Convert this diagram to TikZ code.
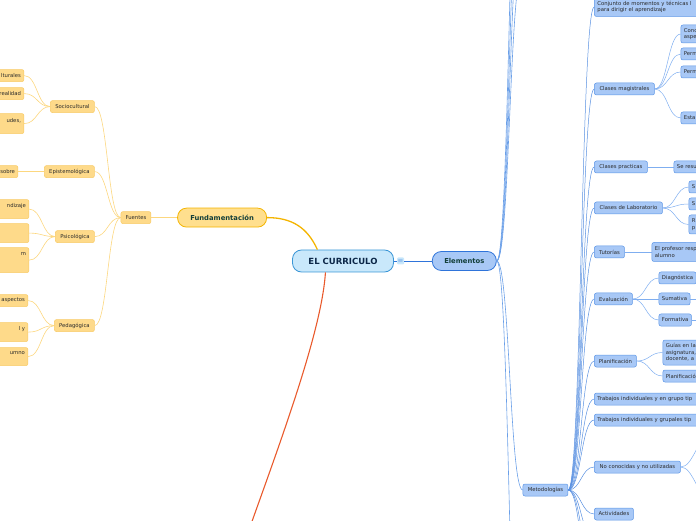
\documentclass[tikz,border=0pt]{standalone}
\usepackage{fontspec}
\setmainfont{DejaVu Sans}
\usetikzlibrary{positioning}

\definecolor{rootfill}{HTML}{C9E8FB}
\definecolor{rootline}{HTML}{3A96D6}
\definecolor{bluefill}{HTML}{A8C8F6}
\definecolor{blueline}{HTML}{5B95E6}
\definecolor{bluedark}{HTML}{2F74DA}
\definecolor{elink}{HTML}{6A9FE8}
\definecolor{glink}{HTML}{7FAEF0}
\definecolor{yelfill}{HTML}{FFDF8E}
\definecolor{yelline}{HTML}{F4B400}
\definecolor{ysubfill}{HTML}{FEDA8A}
\definecolor{ysubline}{HTML}{F8CB66}
\definecolor{ylink}{HTML}{FCD77F}
\definecolor{redlink}{HTML}{E95A2C}
\definecolor{darkgreen}{HTML}{133F3A}
\definecolor{navy}{HTML}{0C2748}
\definecolor{txt}{HTML}{2A2A2A}

\begin{document}
\begin{tikzpicture}[x=1pt, y=1pt,
  root/.style={draw=rootline, fill=rootfill, line width=0.8pt, rounded corners=9pt, font=\fontsize{8.5}{10}\selectfont\bfseries, text=navy, minimum width=101pt, minimum height=22pt},
  bmain/.style={draw=bluedark, fill=bluefill, line width=0.8pt, rounded corners=9pt, font=\fontsize{6.8}{8}\selectfont\bfseries, text=darkgreen, minimum width=64pt, minimum height=19pt},
  ymain/.style={bmain, draw=yelline, fill=yelfill, minimum width=89pt},
  menu/.style={fill=rootfill, text=bluedark, rounded corners=1pt, inner sep=0pt, minimum size=7pt, font=\fontsize{6}{6}\selectfont},
  bsub/.style={draw=blueline, fill=bluefill, line width=0.5pt, rounded corners=2pt, font=\fontsize{5.3}{6.4}\selectfont, text=txt, inner xsep=3pt, inner ysep=1pt, minimum height=12pt, align=left},
  ysub/.style={bsub, draw=ysubline, fill=ysubfill},
  bcut/.style={bsub, text width=#1}, bcut/.default=60pt, % runs past the right edge
  ycut/.style={ysub, text width=54pt, align=right},      % runs past the left edge
  elinkst/.style={draw=elink, line width=0.6pt},
  mlinkst/.style={draw=bluedark!80, line width=0.5pt},
  glinkst/.style={draw=glink, line width=0.5pt},
  ylinkst/.style={draw=ylink, line width=0.6pt},
]
  \useasboundingbox (0,0) rectangle (696,520);
  \clip (0,0) rectangle (696,520);

  \node[root] (cur) at (343,259) {EL CURRICULO};
  \node[bmain, right=38pt of cur] (elem) {Elementos};
  \node[ymain, left=76pt of cur.north, yshift=32pt] (fund) {Fundamentación};
  \coordinate (nextbr) at (215,-110);

  % Fuentes branch
  \node[ysub, left=26pt of fund, minimum width=30pt] (fuentes) {Fuentes};
  \node[ysub, left=26pt of fuentes, yshift=111pt, minimum width=44pt] (socio) {Sociocultural};
  \node[ysub, left=26pt of fuentes, yshift=46pt, minimum width=50pt] (episte) {Epistemológica};
  \node[ysub, left=26pt of fuentes, yshift=-19pt, minimum width=39pt] (psico) {Psicológica};
  \node[ysub, left=26pt of fuentes, yshift=-108pt, minimum width=40pt] (pedago) {Pedagógica};

  \node[ycut, left=26pt of socio, yshift=31pt] (soc1) {lturales};
  \node[ycut, left=26pt of socio, yshift=13pt] (soc2) {realidad};
  \node[ycut, left=26pt of socio, yshift=-17pt, minimum height=20pt] (soc3) {udes,\hspace*{8pt}\\\mbox{}};
  \node[ycut, left=26pt of episte] (epi1) {sobre};
  \node[ycut, left=26pt of psico, yshift=27.5pt, minimum height=19pt] (psi1) {ndizaje\hspace*{9pt}\\\mbox{}};
  \node[ycut, left=26pt of psico, yshift=3.5pt, minimum height=19pt] (psi2) {};
  \node[ycut, left=26pt of psico, yshift=-23.5pt, minimum height=25pt] (psi3) {m\hspace*{23pt}\\\mbox{}\\\mbox{}};
  \node[ycut, left=26pt of pedago, yshift=25pt] (ped1) {aspectos};
  \node[ycut, left=26pt of pedago, yshift=-6.5pt, minimum height=19pt] (ped2) {l y\hspace*{18pt}\\\mbox{}};
  \node[ycut, left=26pt of pedago, yshift=-31pt, minimum height=18pt] (ped3) {umno\hspace*{12pt}\\\mbox{}};

  % Elementos branch
  \node[bsub, right=26pt of elem, yshift=-229pt, minimum width=45pt] (metod) {Metodologías};
  \coordinate[right=26pt of elem, yshift=291pt] (eup1);
  \coordinate[right=26pt of elem, yshift=351pt] (eup2);
  \coordinate[right=26pt of elem, yshift=421pt] (eup3);
  \coordinate[right=26pt of elem, yshift=511pt] (eup4);
  \coordinate[right=26pt of elem, yshift=-519pt] (edown);

  % Metodologias
  \node[bcut=112pt, right=26pt of metod, yshift=483pt, minimum height=19pt] (conj) {Conjunto de momentos y técnicas l\\para dirigir el aprendizaje};
  \node[bsub, right=26pt of metod, yshift=401pt, minimum width=60pt] (clmag) {Clases magistrales};
  \node[bsub, right=26pt of metod, yshift=323pt, minimum width=53pt] (clprac) {Clases practicas};
  \node[bsub, right=26pt of metod, yshift=282pt, minimum width=68pt] (cllab) {Clases de Laboratorio};
  \node[bsub, right=26pt of metod, yshift=238pt, minimum width=30pt] (tutor) {Tutorías};
  \node[bsub, right=26pt of metod, yshift=191pt, minimum width=38pt] (evalu) {Evaluación};
  \node[bsub, right=26pt of metod, yshift=129pt, minimum width=42pt] (planif) {Planificación};
  \node[bcut=130pt, right=26pt of metod, yshift=91pt] (trab1) {Trabajos individuales y en grupo tip};
  \node[bcut=130pt, right=26pt of metod, yshift=70pt] (trab2) {Trabajos individuales y grupales tip};
  \node[bsub, right=26pt of metod, yshift=23pt, minimum width=86pt] (noconoc) {No conocidas y no utilizadas};
  \node[bsub, right=26pt of metod, yshift=-24pt, minimum width=39pt] (activ) {Actividades};
  \coordinate[right=26pt of metod, yshift=-48pt] (mdown1);
  \coordinate[right=26pt of metod, yshift=-75pt] (mdown2);
  \coordinate[right=26pt of metod, yshift=-105pt] (mdown3);

  \node[bcut=30pt, right=26pt of clmag, yshift=55pt, minimum height=18pt] (cm1) {Conc\\aspe};
  \node[bcut=30pt, right=26pt of clmag, yshift=35pt] (cm2) {Perm};
  \node[bcut=30pt, right=26pt of clmag, yshift=17pt] (cm3) {Perm};
  \node[bcut=30pt, right=26pt of clmag, yshift=-29pt] (cm4) {Esta};
  \node[bcut=40pt, right=26pt of clprac] (cp1) {Se resu};
  \node[bcut=20pt, right=26pt of cllab, yshift=21pt] (cl1) {S};
  \node[bcut=20pt, right=26pt of cllab, yshift=4pt] (cl2) {S};
  \node[bcut=20pt, right=26pt of cllab, yshift=-16.5pt, minimum height=19pt] (cl3) {R\\p};
  \node[bcut=60pt, right=27pt of tutor, minimum height=19pt] (tu1) {El profesor resp\\alumno};
  \node[bsub, right=26pt of evalu, yshift=21pt] (ev1) {Diagnóstica};
  \node[bsub, right=26pt of evalu] (ev2) {Sumativa};
  \node[bsub, right=26pt of evalu, yshift=-21pt] (ev3) {Formativa};
  \coordinate[right=12pt of ev2] (ev2next);
  \coordinate[right=12pt of ev3] (ev3next);
  \node[bcut=50pt, right=26pt of planif, yshift=8.5pt, minimum height=25pt] (pl1) {Guías en la\\asignatura,\\docente, a};
  \node[bcut=50pt, right=26pt of planif, yshift=-15pt] (pl2) {Planificació};
  \coordinate[right=30pt of noconoc, yshift=32pt] (nc1);
  \coordinate[right=30pt of noconoc, yshift=-32pt] (nc2);

  % Links from the root
  \draw[yelline, line width=1.3pt] (cur.156) .. controls +(-10,22) and +(25,0) .. (fund.east);
  \draw[redlink, line width=1.1pt] (cur.213) .. controls +(-5,-80) and +(30,100) .. (nextbr);
  \node[menu, right=3pt of cur] (menuic) {$\equiv$};
  \draw[bluedark, line width=0.9pt] (cur) -- (menuic) (menuic) -- (elem);

  % Links, left side
  \draw[ylinkst] (fund) -- (fuentes);
  \foreach \c in {socio,episte,psico,pedago}
    \draw[ylinkst] (fuentes.west) .. controls +(-13,0) and +(13,0) .. (\c.east);
  \foreach \c in {soc1,soc2,soc3}
    \draw[ylinkst] (socio.west) .. controls +(-13,0) and +(13,0) .. (\c.east);
  \draw[ylinkst] (episte) -- (epi1);
  \foreach \c in {psi1,psi2,psi3}
    \draw[ylinkst] (psico.west) .. controls +(-13,0) and +(13,0) .. (\c.east);
  \foreach \c in {ped1,ped2,ped3}
    \draw[ylinkst] (pedago.west) .. controls +(-13,0) and +(13,0) .. (\c.east);

  % Links, right side
  \foreach \c in {eup1,eup2,eup3,eup4,edown}
    \draw[elinkst] (elem.east) .. controls +(13,0) and +(-13,0) .. (\c);
  \draw[elinkst] (elem.east) .. controls +(13,0) and +(-13,0) .. (metod.west);
  \foreach \c in {conj,clmag,clprac,cllab,tutor,evalu,planif,trab1,trab2,noconoc,activ}
    \draw[mlinkst] (metod.east) .. controls +(13,0) and +(-13,0) .. (\c.west);
  \foreach \c in {mdown1,mdown2,mdown3}
    \draw[mlinkst] (metod.east) .. controls +(13,0) and +(-13,0) .. (\c);
  \foreach \c in {cm1,cm2,cm3,cm4}
    \draw[glinkst] (clmag.east) .. controls +(13,0) and +(-13,0) .. (\c.west);
  \draw[glinkst] (clprac) -- (cp1);
  \foreach \c in {cl1,cl2,cl3}
    \draw[glinkst] (cllab.east) .. controls +(13,0) and +(-13,0) .. (\c.west);
  \draw[glinkst] (tutor) -- (tu1);
  \foreach \c in {ev1,ev2,ev3}
    \draw[glinkst] (evalu.east) .. controls +(13,0) and +(-13,0) .. (\c.west);
  \draw[glinkst] (ev2) -- (ev2next) (ev3) -- (ev3next);
  \foreach \c in {pl1,pl2}
    \draw[glinkst] (planif.east) .. controls +(13,0) and +(-13,0) .. (\c.west);
  \foreach \c in {nc1,nc2}
    \draw[glinkst] (noconoc.east) .. controls +(13,0) and +(-13,0) .. (\c);
\end{tikzpicture}
\end{document}
